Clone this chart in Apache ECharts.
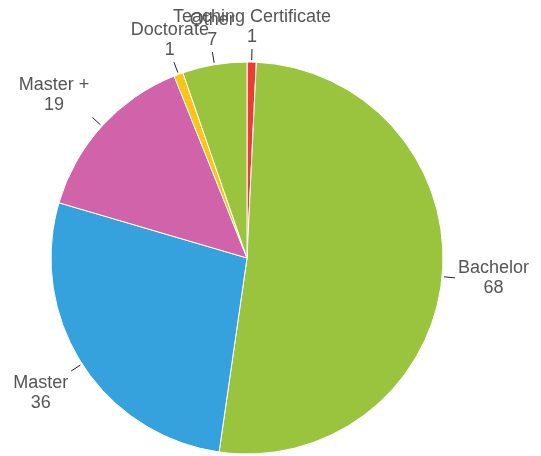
<!DOCTYPE html>
<html>
<head>
<meta charset="utf-8">
<script src="https://cdn.jsdelivr.net/npm/echarts@6/dist/echarts.min.js"></script>
<style>
  html, body { margin: 0; padding: 0; background: #fff; }
  #chart { width: 541px; height: 456px; }
</style>
</head>
<body>
<div id="chart"></div>
<script>
const categories = ['Teaching Certificate', 'Bachelor', 'Master', 'Master +', 'Doctorate', 'Other'];
const values = [1, 68, 36, 19, 1, 7];
const colors = ['#ee3b33', '#9ac43d', '#35a2dd', '#d063a9', '#fbc417', '#9ac43d'];

const chart = echarts.init(document.getElementById('chart'), null, { renderer: 'canvas' });

const clamp01 = (v) => Math.max(0, Math.min(1, v));

const option = {
  animation: false,
  color: colors,
  series: [
    {
      type: 'pie',
      center: [247, 258],
      radius: [0, 196],
      startAngle: 90,
      clockwise: true,
      avoidLabelOverlap: false,
      itemStyle: {
        borderColor: '#fff',
        borderWidth: 1,
      },
      label: {
        show: true,
        position: 'outside',
        formatter: '{b}\n{c}',
        fontFamily: '"Liberation Sans", Arial, sans-serif',
        fontSize: 18,
        lineHeight: 20,
        color: '#555',
      },
      labelLine: {
        show: true,
        length: 12,
        length2: 0,
        lineStyle: { color: '#222', width: 1 },
      },
      // 标签贴在引导线末端：水平方向靠左/右，竖直方向靠上/下
      labelLayout: (params) => {
        const pts = params.labelLinePoints;
        if (!pts) return {};
        const p0 = pts[0];
        let dx = pts[1][0] - p0[0];
        let dy = pts[1][1] - p0[1];
        const len = Math.sqrt(dx * dx + dy * dy) || 1;
        dx /= len;
        dy /= len;
        const end = [p0[0] + dx * 13, p0[1] + dy * 13];
        const hw = params.labelRect.width / 2;
        const hh = params.labelRect.height / 2;
        const fx = clamp01((Math.abs(dx) - 0.33) / 0.2);
        const fy = clamp01((Math.abs(dy) - 0.33) / 0.2);
        return {
          x: end[0] + Math.sign(dx) * fx * (hw + 3),
          y: end[1] + Math.sign(dy) * fy * (hh + 2),
          align: 'center',
          verticalAlign: 'middle',
          labelLinePoints: [
            [p0[0] + dx * 2, p0[1] + dy * 2],
            end,
          ],
        };
      },
      data: categories.map((name, i) => ({ name: name, value: values[i] })),
    },
  ],
};

chart.setOption(option);
</script>
</body>
</html>
